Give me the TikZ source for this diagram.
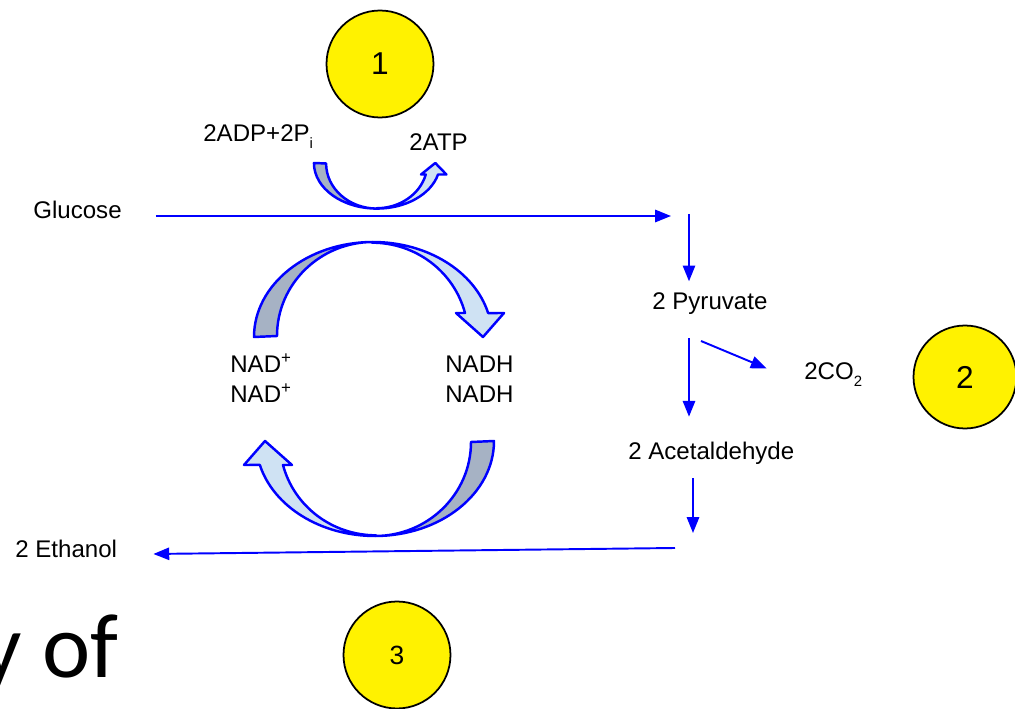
\documentclass[tikz,border=0pt]{standalone}
\usepackage{fontspec}
\setmainfont{Liberation Sans}
\newfontfamily\slidefont{Carlito}
\usetikzlibrary{arrows.meta, positioning}

\definecolor{backband}{RGB}{166,178,196}
\definecolor{frontband}{RGB}{207,226,243}

% low set subscript, as on the slide
\newcommand{\lowsub}[1]{\raisebox{-3.5pt}{\fontsize{8.5}{9}\selectfont #1}}

\begin{document}
\begin{tikzpicture}[x=0.02cm, y=-0.02cm,
        font=\fontsize{13.7}{17}\selectfont,
        >={Triangle[length=9pt,width=7pt]},
        flow/.style={->, draw=blue, line width=1.1pt},
        chem/.style={anchor=base west, inner sep=0pt},
        marker/.style={circle, draw=black, fill=yellow, line width=1pt, minimum size=2.14cm, inner sep=0pt, font=\fontsize{18}{20}\selectfont},
        band/.style={draw=blue, line width=1.4pt, line join=round},
        cyclearrow/.pic={
            % back side of the band
            \filldraw[band, fill=backband]
                (-119,0) arc[start angle=180, end angle=270, x radius=119, y radius=95]
                arc[start angle=270, end angle=180, x radius=96, y radius=94] -- cycle;
            % front side with the head
            \filldraw[band, fill=frontband]
                (0,-95) arc[start angle=270, end angle=345.4, x radius=119, y radius=95]
                -- (131,-24) -- (110,0) -- (83,-24) -- (92,-24)
                arc[start angle=345.4, end angle=270, x radius=96, y radius=94] -- cycle;
        }]

    \useasboundingbox (0,0) rectangle (1015,709);

    \pic at (373,337) {cyclearrow};
    \pic[rotate=180] at (375,441) {cyclearrow};
    \pic[xscale=0.53, yscale=-0.48] at (377,163) {cyclearrow};

    \node[marker] (m_1) at (380,64) {1};
    \node[marker, minimum size=2.06cm] (m_2) at (965,377) {2};
    \node[marker, font=\fontsize{15}{18}\selectfont] (m_3) at (397,655) {3};

    \node[chem] (glucose) at (33,219) {Glucose};
    \node[chem] (adp) at (203,142) {2ADP+2P\lowsub{i}};
    \node[chem] (atp) at (409,151) {2ATP};
    \node[chem] (nad_1) at (230,373) {NAD\textsuperscript{+}};
    \node[chem] (nad_2) at (230,403) {NAD\textsuperscript{+}};
    \node[chem] (nadh_1) at (445,373) {NADH};
    \node[chem] (nadh_2) at (445,403) {NADH};
    \node[chem] (pyruvate) at (652,310) {2 Pyruvate};
    \node[chem] (co2) at (804,380) {2CO\lowsub{2}};
    \node[chem] (acetald) at (628,460) {2 Acetaldehyde};
    \node[chem] (ethanol) at (15,558) {2 Ethanol};
    \node[anchor=base east, inner sep=0pt, font=\slidefont\fontsize{52}{60}\selectfont] (title_frag) at (119,678) {y of};

    \coordinate (glu_end) at (671,216);
    \coordinate (pyr_in) at (689,214);
    \coordinate (decarb) at (701,341);
    \coordinate (ace_out) at (693,533);
    \coordinate (eth_start) at (675,548);

    \draw[flow, shorten <=0.68cm] (glucose.east |- glu_end) -- (glu_end);
    \draw[flow, shorten >=0.23cm] (pyr_in) -- (pyruvate.north -| pyr_in);
    \draw[flow, shorten <=0.46cm, shorten >=0.51cm] (pyruvate.south -| pyr_in) -- (acetald.north -| pyr_in);
    \draw[flow, shorten >=0.81cm] (decarb) -- ([yshift=0.05cm]co2.south west);
    \draw[flow, shorten <=0.26cm] (acetald.south -| ace_out) -- (ace_out);
    \draw[flow, shorten >=0.72cm] (eth_start) -- ([yshift=-0.1cm]ethanol.east);

\end{tikzpicture}
\end{document}
